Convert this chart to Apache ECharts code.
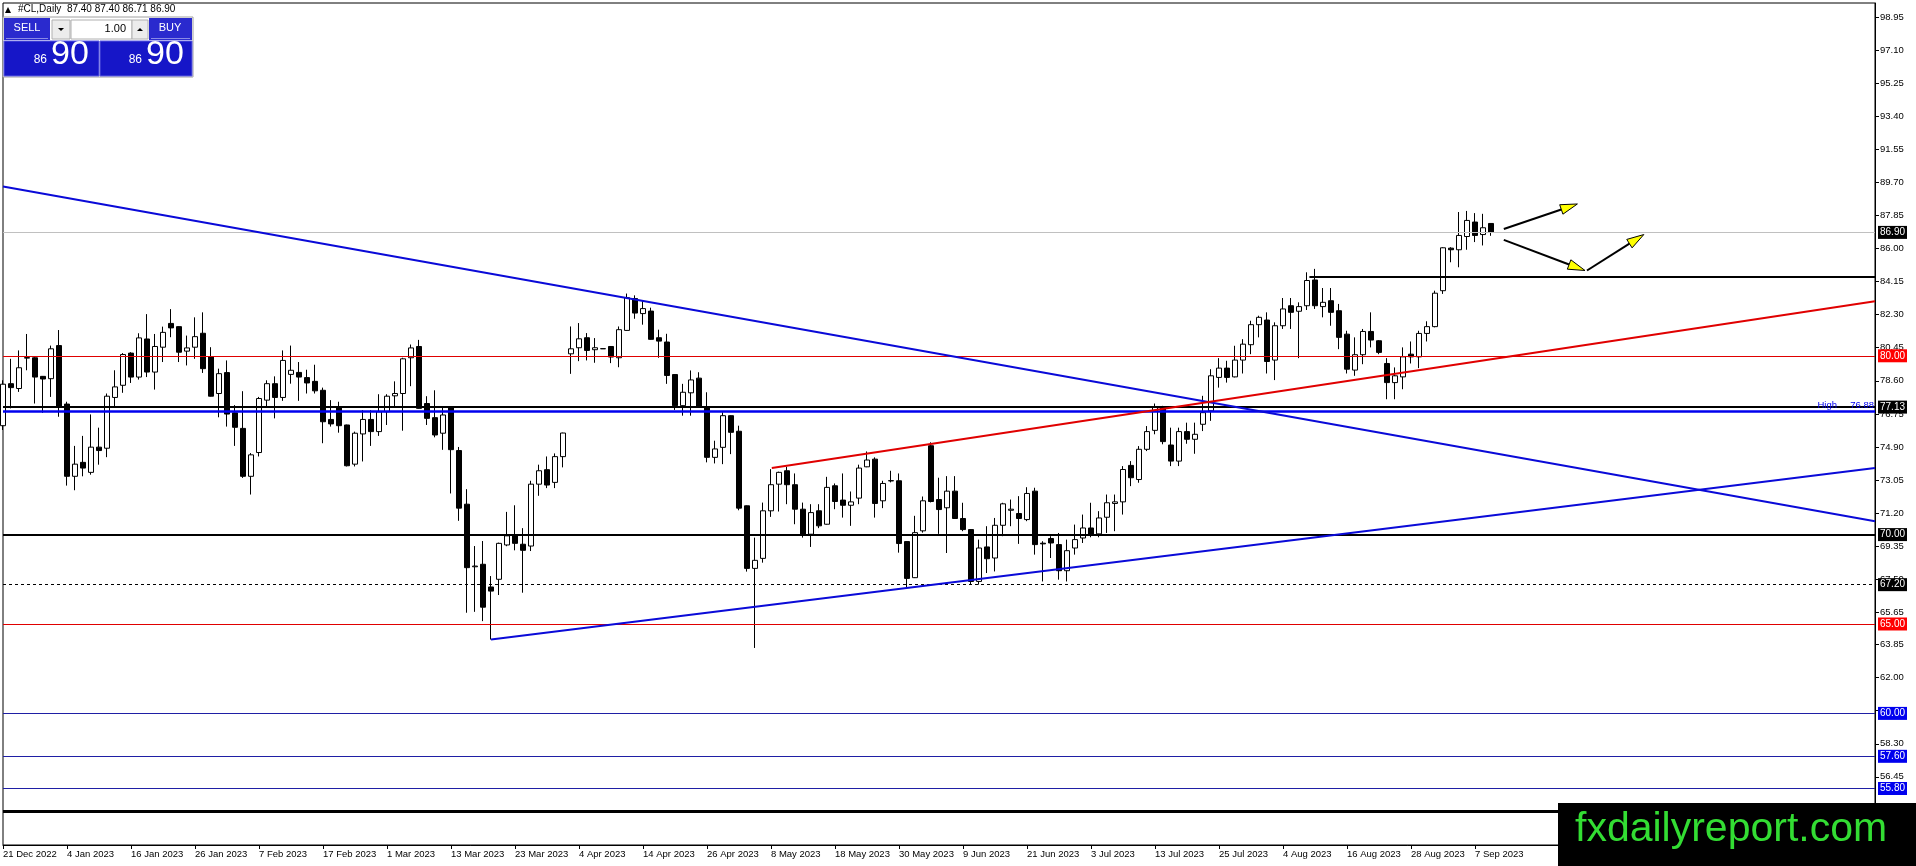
<!DOCTYPE html>
<html lang="en">

<head>
    <meta charset="UTF-8">
    <title>#CL,Daily</title>
    <script src="https://cdn.jsdelivr.net/npm/echarts@6/dist/echarts.min.js"></script>
    <style>
        html, body { margin: 0; padding: 0; background: #fff; }
        #chart { width: 1916px; height: 866px; }
    </style>
</head>

<body>
    <div id="chart"></div>

    <script>
        // 日线 OHLC (21 Dec 2022 - 11 Sep 2023)
        var opens = [
            76.09, 78.44, 78.17, 79.87, 79.89, 78.85, 78.72, 80.57, 77.30, 73.26,
            74.04, 73.48, 74.89, 74.83, 77.67, 78.35, 80.15, 78.81, 80.94, 79.09,
            80.48, 81.81, 81.63, 80.26, 80.48, 81.26, 79.96, 77.89, 79.06, 76.81,
            75.94, 73.26, 74.59, 77.52, 78.44, 77.67, 78.96, 79.07, 78.78, 78.57,
            78.07, 76.44, 77.11, 76.13, 73.94, 75.63, 76.44, 75.76, 76.87, 77.76,
            77.89, 79.89, 80.52, 77.33, 76.54, 75.67, 77.15, 74.70, 71.70, 68.20,
            68.34, 67.07, 67.50, 69.42, 69.93, 69.46, 69.36, 72.82, 73.63, 72.92,
            74.36, 80.11, 80.45, 81.01, 80.34, 80.39, 80.52, 79.89, 81.42, 83.20,
            82.36, 82.50, 81.01, 80.77, 78.95, 77.21, 77.93, 78.75, 77.08, 74.32,
            74.88, 76.65, 75.78, 71.61, 68.11, 68.67, 71.33, 72.82, 73.57, 72.79,
            71.42, 70.02, 71.33, 70.58, 72.73, 71.93, 71.64, 72.04, 73.79, 74.22,
            71.89, 73.00, 73.01, 69.61, 67.59, 70.21, 74.97, 71.96, 71.50, 72.43,
            70.90, 70.28, 67.38, 69.31, 68.69, 70.52, 71.36, 71.18, 70.84, 72.43,
            69.52, 69.78, 69.44, 67.98, 69.25, 69.81, 70.37, 70.04, 70.97, 71.74,
            71.83, 73.87, 73.08, 74.77, 75.83, 77.14, 75.01, 74.11, 75.76, 75.33,
            76.17, 76.92, 78.79, 79.31, 78.82, 79.76, 80.62, 81.74, 82.00, 79.76,
            81.68, 82.80, 82.49, 82.80, 84.24, 82.75, 83.08, 82.52, 81.21, 79.20,
            80.06, 81.36, 80.84, 79.57, 78.50, 78.82, 80.09, 79.94, 81.25, 81.63,
            83.64, 86.02, 85.93, 86.67, 87.48, 86.78, 87.40
        ];
        var highs = [
            78.63, 79.83, 80.30, 81.22, 79.92, 78.87, 80.57, 81.44, 77.43, 74.96,
            75.52, 76.72, 75.98, 77.89, 79.19, 80.15, 80.20, 81.26, 82.33, 81.22,
            81.63, 82.61, 81.65, 81.13, 82.15, 82.43, 80.48, 79.28, 79.74, 77.24,
            78.02, 74.56, 77.70, 78.63, 78.85, 80.30, 80.57, 79.65, 79.22, 79.50,
            78.22, 77.52, 77.43, 76.15, 75.76, 76.96, 76.96, 77.85, 77.85, 78.57,
            79.89, 80.63, 80.89, 77.74, 78.07, 77.15, 77.19, 74.90, 72.54, 69.36,
            69.64, 67.68, 69.55, 71.27, 71.64, 70.36, 73.01, 73.91, 74.37, 74.54,
            75.70, 81.64, 81.83, 81.27, 80.99, 80.40, 80.54, 81.64, 83.48, 83.38,
            83.10, 82.69, 81.46, 81.23, 78.97, 78.43, 79.18, 79.08, 77.96, 75.25,
            76.84, 76.67, 76.09, 71.63, 69.83, 71.79, 73.66, 73.52, 73.79, 73.42,
            71.79, 71.70, 71.70, 73.23, 72.86, 73.42, 72.41, 73.91, 74.65, 74.32,
            73.01, 73.57, 73.42, 69.63, 71.05, 72.13, 75.16, 73.18, 73.27, 73.27,
            71.78, 70.30, 69.72, 70.47, 70.93, 71.78, 71.96, 72.15, 72.65, 72.62,
            69.63, 69.91, 70.09, 69.72, 70.56, 71.12, 71.78, 71.31, 72.24, 72.24,
            73.83, 74.11, 74.95, 76.07, 77.33, 77.20, 75.98, 75.98, 76.26, 76.26,
            77.76, 79.25, 79.87, 79.72, 80.56, 80.93, 81.96, 82.24, 82.43, 81.87,
            83.23, 83.23, 82.99, 84.67, 84.86, 83.79, 83.79, 82.90, 81.40, 81.03,
            81.50, 82.43, 80.88, 79.87, 79.35, 80.47, 80.80, 81.40, 81.93, 83.64,
            86.07, 86.07, 88.04, 88.10, 87.98, 87.94, 87.40
        ];
        var lows = [
            75.85, 77.06, 77.98, 79.19, 77.33, 76.81, 77.70, 76.59, 72.74, 72.48,
            73.26, 73.35, 73.91, 74.33, 77.15, 77.93, 78.48, 78.67, 78.81, 78.11,
            79.65, 81.04, 79.65, 79.46, 79.83, 79.04, 77.72, 76.56, 76.04, 74.96,
            73.17, 72.24, 74.37, 77.19, 76.50, 77.48, 78.44, 77.48, 77.89, 77.89,
            75.11, 76.04, 75.70, 73.81, 73.81, 74.09, 74.96, 75.52, 76.13, 77.15,
            75.81, 78.30, 77.04, 76.13, 75.44, 74.74, 72.30, 70.77, 65.63, 65.68,
            65.16, 64.13, 66.62, 69.35, 69.12, 66.75, 69.08, 72.17, 72.60, 72.60,
            73.76, 78.99, 79.70, 79.74, 79.61, 80.38, 79.59, 79.36, 81.40, 82.07,
            81.74, 80.90, 79.89, 78.43, 76.97, 76.65, 76.65, 77.10, 74.04, 73.98,
            73.94, 74.50, 71.36, 67.93, 63.66, 68.43, 70.99, 71.29, 71.70, 70.58,
            69.83, 69.31, 70.36, 70.56, 71.42, 70.95, 70.49, 71.70, 73.77, 70.95,
            71.48, 72.92, 68.99, 67.03, 67.57, 70.11, 71.80, 70.04, 68.97, 70.88,
            70.19, 67.20, 67.20, 67.85, 67.94, 69.91, 70.47, 69.48, 70.75, 68.88,
            67.38, 68.69, 67.48, 67.38, 68.88, 69.53, 69.85, 69.85, 70.09, 70.19,
            71.12, 72.71, 72.90, 74.67, 75.61, 75.05, 73.83, 73.83, 75.08, 74.52,
            75.79, 76.36, 78.22, 78.50, 78.79, 79.01, 80.09, 81.03, 79.01, 78.64,
            81.50, 81.50, 79.87, 82.56, 82.62, 82.15, 81.68, 80.37, 79.01, 78.88,
            79.53, 80.47, 80.09, 77.57, 77.57, 78.13, 79.57, 79.31, 80.80, 81.59,
            83.46, 85.23, 84.95, 85.93, 86.36, 86.17, 86.71
        ];
        var closes = [
            78.41, 78.22, 79.33, 79.90, 78.81, 78.70, 80.39, 77.15, 73.26, 73.94,
            73.72, 74.89, 74.70, 77.74, 78.26, 80.07, 78.81, 81.00, 79.09, 80.52,
            81.31, 81.56, 80.20, 80.44, 81.07, 79.28, 77.74, 79.00, 76.74, 76.00,
            73.26, 74.46, 77.61, 78.44, 77.67, 79.74, 79.19, 78.81, 78.48, 78.04,
            76.31, 76.19, 76.09, 73.85, 75.67, 76.44, 75.76, 76.87, 77.74, 77.89,
            79.83, 80.44, 77.06, 76.50, 75.57, 76.69, 74.75, 71.48, 68.15, 68.24,
            65.94, 66.84, 69.51, 69.93, 69.51, 69.12, 72.82, 73.57, 72.77, 74.36,
            75.68, 80.39, 80.95, 80.30, 80.45, 80.40, 79.93, 81.46, 83.25, 82.39,
            82.64, 80.92, 80.82, 78.90, 77.21, 77.96, 78.65, 77.12, 74.32, 74.79,
            76.65, 75.72, 71.48, 68.11, 68.56, 71.33, 72.79, 73.48, 72.79, 71.42,
            69.98, 71.23, 70.49, 72.64, 71.85, 71.64, 71.83, 73.72, 74.17, 71.74,
            72.86, 73.02, 69.50, 67.55, 70.11, 71.89, 71.85, 71.40, 72.43, 70.90,
            70.28, 67.38, 69.25, 68.65, 70.52, 71.72, 71.42, 70.90, 72.30, 69.44,
            69.48, 69.53, 67.98, 69.10, 69.72, 70.37, 69.96, 70.93, 71.78, 71.83,
            73.64, 73.18, 74.77, 75.76, 77.14, 75.20, 74.11, 75.76, 75.33, 75.61,
            76.82, 78.88, 79.31, 78.79, 79.76, 80.65, 81.74, 82.15, 79.68, 81.68,
            82.62, 82.43, 82.75, 84.21, 82.80, 82.99, 82.43, 81.03, 79.25, 80.06,
            81.36, 80.88, 80.19, 78.50, 78.88, 79.94, 79.94, 81.25, 81.63, 83.50,
            86.04, 85.93, 86.73, 87.57, 86.73, 87.16, 86.90
        ];

        // 时间轴标签, 每 8 根K线一个
        var tickLabels = [
            '21 Dec 2022', '4 Jan 2023', '16 Jan 2023', '26 Jan 2023', '7 Feb 2023', '17 Feb 2023',
            '1 Mar 2023', '13 Mar 2023', '23 Mar 2023', '4 Apr 2023', '14 Apr 2023', '26 Apr 2023',
            '8 May 2023', '18 May 2023', '30 May 2023', '9 Jun 2023', '21 Jun 2023', '3 Jul 2023',
            '13 Jul 2023', '25 Jul 2023', '4 Aug 2023', '16 Aug 2023', '28 Aug 2023', '7 Sep 2023'
        ];
        var barsPerLabel = 8;

        // 价格轴刻度
        var priceTicks = [
            98.95, 97.10, 95.25, 93.40, 91.55, 89.70, 87.85, 86.00, 84.15, 82.30,
            80.45, 78.60, 76.75, 74.90, 73.05, 71.20, 69.35, 67.50, 65.65, 63.85,
            62.00, 60.15, 58.30, 56.45, 54.60
        ];

        // 水平线
        var bidPrice = 86.90;
        var redLevels = [80.00, 65.00];
        var navyLevels = [60.00, 57.60, 55.80];
        var blackLevels = [77.13, 70.00];
        var dashedLevels = [67.20];
        var highLevel = 76.88;
        var floorLevel = 54.54;

        // 趋势线 [bar index, price]
        var blueDownLine = [[0, 89.47], [234, 70.75]];
        var blueUpLine = [[61, 64.13], [234, 73.73]];
        var redUpLine = [[96.1, 73.72], [234, 83.05]];
        var resistLine = [[163.3, 84.41], [234, 84.41]];

        // 箭头 [x1, y1, x2, y2]
        var arrows = [
            [187.6, 87.09, 196.8, 88.49],
            [187.6, 86.48, 197.75, 84.77],
            [198.0, 84.77, 205.1, 86.78]
        ];

        var FONT = '"Liberation Sans", Arial, sans-serif';

        var candles = [];
        for (var i = 0; i < opens.length; i++) {
            candles.push([i, opens[i], closes[i], lows[i], highs[i]]);
        }

        var labelTicks = [];
        for (var j = 0; j < tickLabels.length; j++) {
            labelTicks.push(j * barsPerLabel);
        }

        // 右侧价格标签
        function tag(value, bg) {
            return {
                show: true,
                position: 'end',
                distance: 3,
                formatter: value.toFixed(2),
                color: '#fff',
                backgroundColor: bg,
                padding: [2, 2, 1, 2],
                fontSize: 10,
                fontFamily: FONT
            };
        }

        function hLine(value, color, width, type, bg) {
            return {
                yAxis: value,
                lineStyle: { color: color, width: width, type: type || 'solid' },
                label: bg ? tag(value, bg) : { show: false }
            };
        }

        function segment(pts, color, width) {
            return [
                { coord: pts[0], lineStyle: { color: color, width: width, type: 'solid' } },
                { coord: pts[1] }
            ];
        }

        var markData = [];
        markData.push(hLine(bidPrice, '#c0c0c0', 1, 'solid', '#000'));
        redLevels.forEach(function (v) { markData.push(hLine(v, '#e00000', 1, 'solid', '#f00')); });
        navyLevels.forEach(function (v) { markData.push(hLine(v, '#1f1fa5', 1, 'solid', '#0000ee')); });
        dashedLevels.forEach(function (v) { markData.push(hLine(v, '#000', 1, [3, 3], '#000')); });
        markData.push({
            yAxis: highLevel,
            lineStyle: { color: '#0000ee', width: 2.5, type: 'solid' },
            label: {
                show: true, position: 'insideEndTop', distance: 1,
                formatter: 'High     ' + highLevel.toFixed(2),
                color: '#0000ee', fontSize: 9.5, fontFamily: FONT
            }
        });
        blackLevels.forEach(function (v) { markData.push(hLine(v, '#000', 2, 'solid', '#000')); });
        markData.push(hLine(floorLevel, '#000', 3, 'solid', null));
        markData.push(segment(blueDownLine, '#0a0ad8', 2));
        markData.push(segment(blueUpLine, '#0a0ad8', 2));
        markData.push(segment(redUpLine, '#e00000', 2));
        markData.push(segment(resistLine, '#000', 2));

        // 箭头: 黑色线 + 黄色三角
        function renderArrow(params, api) {
            var p1 = api.coord([api.value(0), api.value(1)]);
            var p2 = api.coord([api.value(2), api.value(3)]);
            var dx = p2[0] - p1[0], dy = p2[1] - p1[1];
            var len = Math.sqrt(dx * dx + dy * dy);
            var ux = dx / len, uy = dy / len;
            var hl = 17, hw = 5;
            var bx = p2[0] - ux * hl, by = p2[1] - uy * hl;
            return {
                type: 'group',
                children: [
                    { type: 'line', shape: { x1: p1[0], y1: p1[1], x2: bx, y2: by }, style: { stroke: '#000', lineWidth: 2 } },
                    {
                        type: 'polygon',
                        shape: { points: [[p2[0], p2[1]], [bx - uy * hw, by + ux * hw], [bx + uy * hw, by - ux * hw]] },
                        style: { fill: '#ffff00', stroke: '#000', lineWidth: 1 }
                    }
                ]
            };
        }

        var myChart = echarts.init(document.getElementById('chart'));

        var option = {
            animation: false,
            backgroundColor: '#fff',
            grid: {
                left: 3, top: 3, right: 41, bottom: 21,
                show: true, borderColor: '#000', borderWidth: 1, backgroundColor: '#fff'
            },
            xAxis: {
                type: 'value',
                min: 0,
                max: 234,
                axisLine: { show: true, onZero: false, lineStyle: { color: '#000', width: 1 } },
                axisTick: { show: true, customValues: labelTicks, length: 4, lineStyle: { color: '#000' } },
                axisLabel: {
                    customValues: labelTicks,
                    formatter: function (v) { return tickLabels[Math.round(v / barsPerLabel)] || ''; },
                    align: 'left',
                    margin: 4,
                    color: '#000',
                    fontSize: 9.5,
                    fontFamily: FONT
                },
                splitLine: { show: false }
            },
            yAxis: {
                type: 'value',
                position: 'right',
                min: 52.64,
                max: 99.73,
                axisLine: { show: true, onZero: false, lineStyle: { color: '#000', width: 1 } },
                axisTick: { show: true, customValues: priceTicks, length: 4, lineStyle: { color: '#000' } },
                axisLabel: {
                    customValues: priceTicks,
                    formatter: function (v) { return v.toFixed(2); },
                    margin: 5,
                    color: '#000',
                    fontSize: 9.5,
                    fontFamily: FONT
                },
                splitLine: { show: false }
            },
            series: [
                {
                    name: '#CL',
                    type: 'candlestick',
                    data: candles,
                    barWidth: 5,
                    itemStyle: {
                        color: '#fff',
                        color0: '#000',
                        borderColor: '#000',
                        borderColor0: '#000',
                        borderColorDoji: '#000',
                        borderWidth: 1
                    },
                    markLine: {
                        silent: true,
                        symbol: ['none', 'none'],
                        animation: false,
                        label: { show: false },
                        data: markData
                    }
                },
                {
                    name: 'arrows',
                    type: 'custom',
                    renderItem: renderArrow,
                    encode: { x: [0, 2], y: [1, 3] },
                    data: arrows,
                    z: 5
                }
            ],
            graphic: [
                // 左上角标题
                { type: 'polygon', z: 50, shape: { points: [[5, 13], [11, 13], [8, 7]] }, style: { fill: '#000' } },
                {
                    type: 'text', z: 50, left: 18, top: 4,
                    style: { text: '#CL,Daily  87.40 87.40 86.71 86.90', fill: '#000', font: '10px ' + FONT }
                },
                // 交易面板
                { type: 'rect', z: 50, shape: { x: 3, y: 17, width: 190, height: 60 }, style: { fill: '#fff', stroke: '#a0a0a0' } },
                { type: 'rect', z: 51, shape: { x: 4, y: 18, width: 46, height: 22 }, style: { fill: '#2a2ace' } },
                { type: 'rect', z: 51, shape: { x: 6, y: 38, width: 42, height: 1 }, style: { fill: '#8a8ae6' } },
                { type: 'text', z: 52, x: 27, y: 28, style: { text: 'SELL', fill: '#fff', font: '11px ' + FONT, align: 'center', verticalAlign: 'middle' } },
                { type: 'rect', z: 51, shape: { x: 52, y: 20, width: 18, height: 19 }, style: { fill: '#ececec', stroke: '#b0b0b0' } },
                { type: 'polygon', z: 52, shape: { points: [[58, 28], [64, 28], [61, 31]] }, style: { fill: '#000' } },
                { type: 'rect', z: 51, shape: { x: 71, y: 20, width: 61, height: 19 }, style: { fill: '#fff', stroke: '#b0b0b0' } },
                { type: 'text', z: 52, x: 126, y: 29, style: { text: '1.00', fill: '#000', font: '11px ' + FONT, align: 'right', verticalAlign: 'middle' } },
                { type: 'rect', z: 51, shape: { x: 132, y: 20, width: 16, height: 19 }, style: { fill: '#ececec', stroke: '#b0b0b0' } },
                { type: 'polygon', z: 52, shape: { points: [[137, 31], [143, 31], [140, 28]] }, style: { fill: '#000' } },
                { type: 'rect', z: 51, shape: { x: 149, y: 18, width: 43, height: 22 }, style: { fill: '#2a2ace' } },
                { type: 'rect', z: 51, shape: { x: 151, y: 38, width: 39, height: 1 }, style: { fill: '#8a8ae6' } },
                { type: 'text', z: 52, x: 170, y: 28, style: { text: 'BUY', fill: '#fff', font: '11px ' + FONT, align: 'center', verticalAlign: 'middle' } },
                { type: 'rect', z: 51, shape: { x: 4, y: 41, width: 95, height: 35 }, style: { fill: '#1616c8', stroke: '#5a5ae0' } },
                { type: 'rect', z: 51, shape: { x: 100, y: 41, width: 92, height: 35 }, style: { fill: '#1616c8', stroke: '#5a5ae0' } },
                { type: 'text', z: 52, x: 47, y: 66, style: { text: '86', fill: '#fff', font: '12px ' + FONT, align: 'right', verticalAlign: 'bottom' } },
                { type: 'text', z: 52, x: 51, y: 72, style: { text: '90', fill: '#fff', font: '34px ' + FONT, align: 'left', verticalAlign: 'bottom' } },
                { type: 'text', z: 52, x: 142, y: 66, style: { text: '86', fill: '#fff', font: '12px ' + FONT, align: 'right', verticalAlign: 'bottom' } },
                { type: 'text', z: 52, x: 146, y: 72, style: { text: '90', fill: '#fff', font: '34px ' + FONT, align: 'left', verticalAlign: 'bottom' } },
                // 右下角水印
                { type: 'rect', z: 100, shape: { x: 1558, y: 803, width: 358, height: 63 }, style: { fill: '#000' } },
                {
                    type: 'text', z: 101, x: 1575, y: 830,
                    style: { text: 'fxdailyreport.com', fill: '#33dd33', font: '41px ' + FONT, verticalAlign: 'middle' }
                }
            ]
        };

        myChart.setOption(option);
    </script>
</body>

</html>
